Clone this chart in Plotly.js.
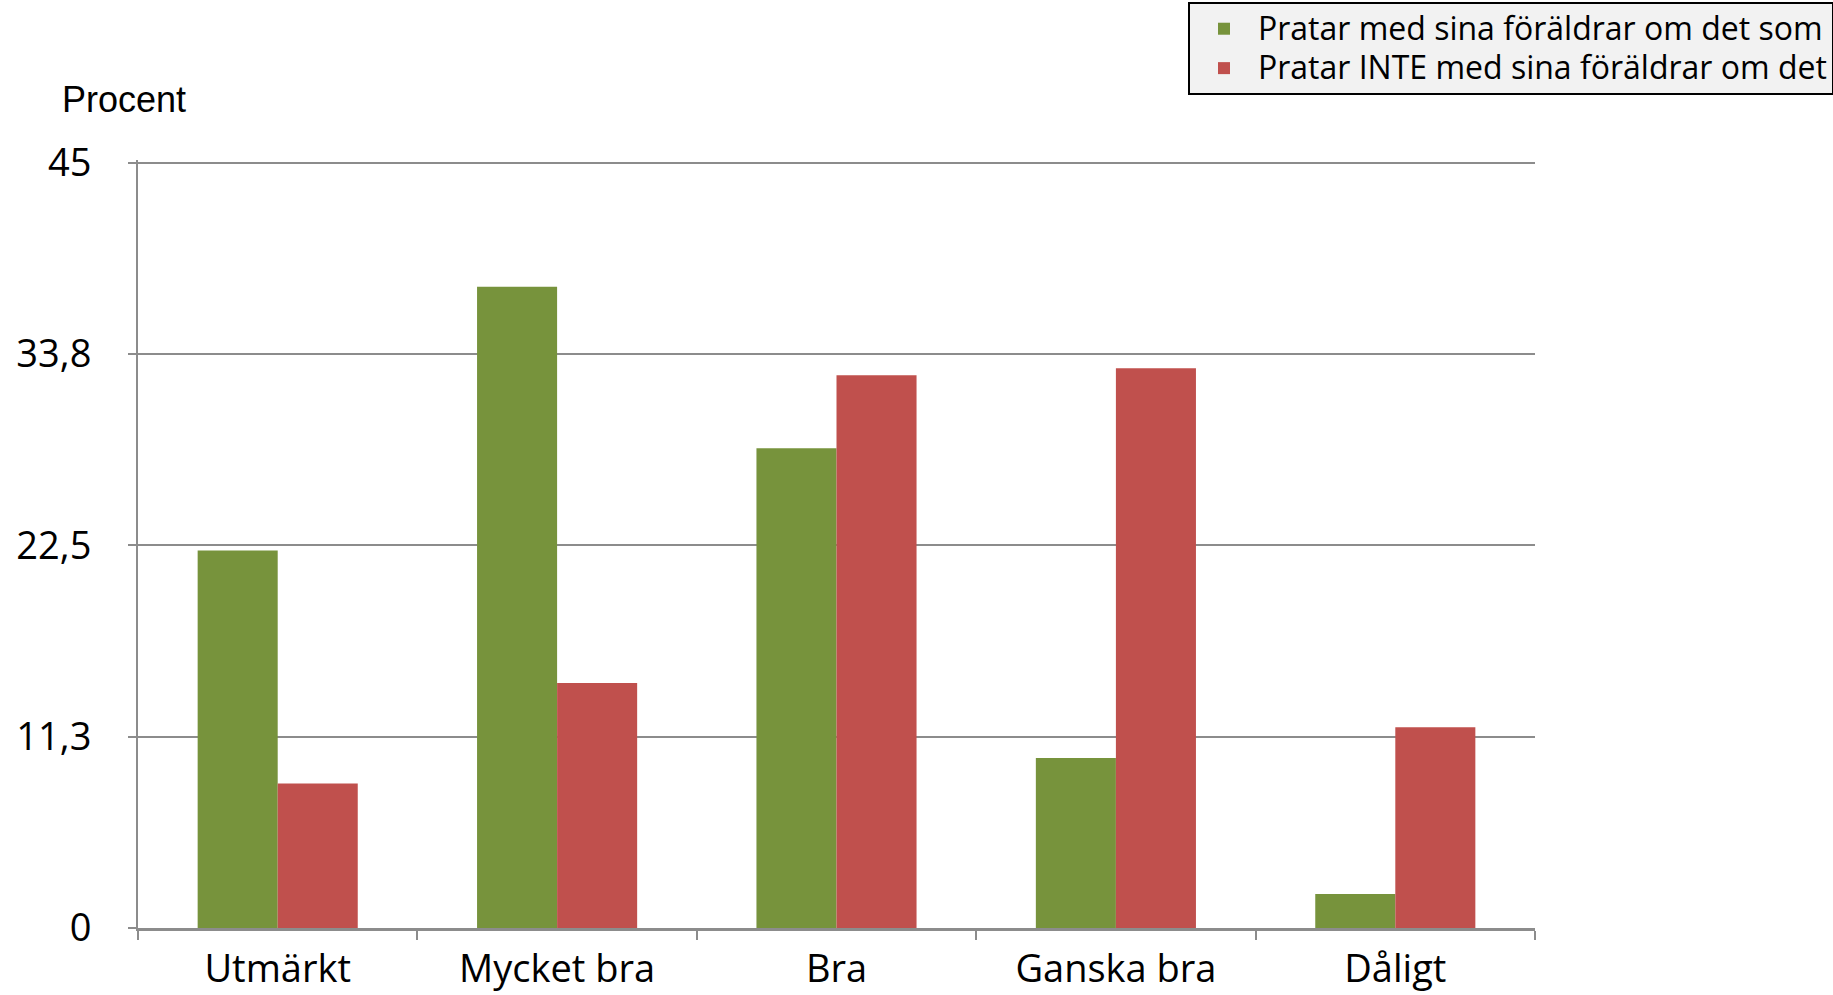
<!DOCTYPE html>
<html>
<head>
<meta charset="utf-8">
<script src="https://cdn.plot.ly/plotly-3.0.1.min.js"></script>
<style>
  html, body { margin: 0; padding: 0; background: #fff; }
  #plot { width: 1833px; height: 995px; }
</style>
</head>
<body>
<div id="plot"></div>
<script>
/* Data */
var categories = ["Utmärkt", "Mycket bra", "Bra", "Ganska bra", "Dåligt"];

var pratarValues = [22.2, 37.7, 28.2, 10.0, 2.0];
var inteValues = [8.5, 14.4, 32.5, 32.9, 11.8];

var seriesNames = [
  "Pratar med sina föräldrar om det som",
  "Pratar INTE med sina föräldrar om det"
];

var yTickVals = [0, 11.25, 22.5, 33.75, 45];
var yTickText = ["0", "11,3", "22,5", "33,8", "45"];

// legend rows are tighter than the glyph size, so the text is a bit larger than legend.font
function legendName(s) {
  return '<span style="font-size:32px">' + s + '</span>';
}

var tracePratar = {
  x: categories,
  y: pratarValues,
  name: legendName(seriesNames[0]),
  type: "bar",
  marker: { color: "#77933c" },
  hoverinfo: "x+y"
};

var traceInte = {
  x: categories,
  y: inteValues,
  name: legendName(seriesNames[1]),
  type: "bar",
  marker: { color: "#c0504d" },
  hoverinfo: "x+y"
};

var tickFont = { family: "Open Sans, sans-serif", size: 38, color: "#000" };

var layout = {
  width: 1833,
  height: 995,
  paper_bgcolor: "#fff",
  plot_bgcolor: "#fff",
  barmode: "group",
  bargap: 0.427,
  bargroupgap: 0,
  margin: { l: 138, r: 298, t: 160, b: 67, autoexpand: false },
  showlegend: true,
  legend: {
    x: 0.7516,
    y: 1.2057,
    xanchor: "left",
    yanchor: "top",
    bgcolor: "#f2f2f2",
    bordercolor: "#000",
    borderwidth: 2,
    itemwidth: 58,
    tracegroupgap: 0,
    font: { family: "Open Sans, sans-serif", size: 28, color: "#000" }
  },
  xaxis: {
    type: "category",
    showline: true,
    linecolor: "#8c8c8c",
    linewidth: 3,
    ticks: "outside",
    tickson: "boundaries",
    ticklen: 9,
    tickwidth: 2,
    tickcolor: "#8c8c8c",
    showgrid: false,
    tickfont: tickFont,
    ticklabelstandoff: 5
  },
  yaxis: {
    range: [0, 45.15],
    tickmode: "array",
    tickvals: yTickVals,
    ticktext: yTickText,
    showline: true,
    linecolor: "#8c8c8c",
    linewidth: 2,
    ticks: "outside",
    ticklen: 8,
    tickwidth: 2,
    tickcolor: "#8c8c8c",
    showgrid: true,
    gridcolor: "#8c8c8c",
    gridwidth: 2,
    zeroline: false,
    tickfont: tickFont,
    ticklabelstandoff: 29
  },
  annotations: [
    {
      text: "Procent",
      xref: "paper",
      yref: "paper",
      x: -0.01,
      y: 1.0788,
      xanchor: "center",
      yanchor: "middle",
      showarrow: false,
      font: { family: "Liberation Sans, Arial, sans-serif", size: 36, color: "#000" }
    }
  ]
};

/* Both series as grouped bars */
var data = [tracePratar, traceInte];

Plotly.newPlot("plot", data, layout, { displayModeBar: false, staticPlot: true });
</script>
</body>
</html>
